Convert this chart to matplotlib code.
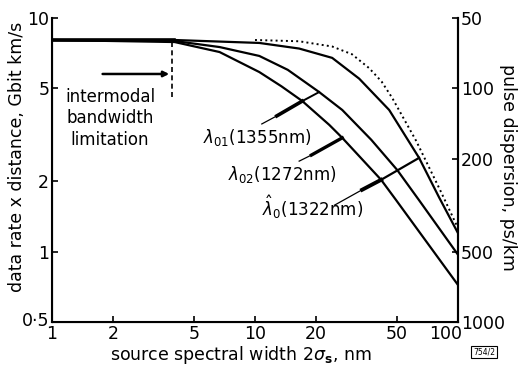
import matplotlib
matplotlib.use('Agg')
import matplotlib.pyplot as plt
import matplotlib.transforms as mtransforms

plt.rcParams['font.family'] = ['DejaVu Sans']
plt.rcParams['mathtext.fontset'] = 'dejavusans'

# dotted limit curve
x_lim = [10, 16.5, 24.0, 30.0, 36.5, 42.0, 47.4, 62.2, 82.5, 100]
y_lim = [8.05, 7.95, 7.55, 7.0, 6.1, 5.35, 4.55, 2.98, 1.80, 1.26]

# lambda-hat-0 (1322 nm)
x_c1 = [1, 4.02, 10.5, 16.5, 24.0, 32.6, 45.8, 64.3, 80.6, 100]
y_c1 = [8.05, 8.05, 7.82, 7.4, 6.75, 5.5, 4.04, 2.52, 1.71, 1.2]

# lambda-01 (1355 nm)
x_c2 = [1, 4.02, 6.69, 10.5, 14.5, 20.7, 26.9, 37.4, 50.1, 64.3, 100]
y_c2 = [8.05, 7.97, 7.51, 6.88, 6.0, 4.82, 4.04, 3.01, 2.24, 1.66, 0.97]

# lambda-02 (1272 nm)
x_c3 = [1, 4.02, 6.69, 10.5, 13.5, 17.1, 23.2, 26.9, 41.8, 49.6, 100]
y_c3 = [8.05, 7.89, 7.15, 5.87, 5.1, 4.41, 3.49, 3.07, 2.03, 1.66, 0.72]

x_ticks = [1, 2, 5, 10, 20, 50, 100]
y_ticks = [0.5, 1, 2, 5, 10]
y_ticklabels = ['0·5', '1', '2', '5', '10']
disp_ticks = [50, 100, 200, 500, 1000]

fs = 12.5
fig = plt.figure(figsize=(5.19, 3.65), dpi=100)
ax = fig.add_axes([0.1002, 0.1178, 0.7823, 0.8329])

ax.plot(x_c1, y_c1, 'k-', lw=1.6)
ax.plot(x_c2, y_c2, 'k-', lw=1.6)
ax.plot(x_c3, y_c3, 'k-', lw=1.6)
ax.plot(x_lim, y_lim, 'k:', lw=1.4)
ax.plot([1, 4.0], [8.05, 8.05], 'k-', lw=2.6)

ax.set_xscale('log')
ax.set_yscale('log')
ax.set_xlim(1, 100)
ax.set_ylim(0.5, 10)
ax.set_xticks(x_ticks)
ax.set_xticklabels([str(t) for t in x_ticks])
ax.set_yticks(y_ticks)
ax.set_yticklabels(y_ticklabels)
ax.minorticks_off()
ax.tick_params(direction='in', length=4, width=1.2, labelsize=fs, pad=2)
ax.spines['top'].set_visible(False)
for s in ['left', 'bottom', 'right']:
    ax.spines[s].set_linewidth(1.5)

# "100" sits left of the right axis, "0·5" a little higher, as in the original
ax.get_xticklabels()[-1].set_horizontalalignment('right')
ax.get_xticklabels()[-1].set_transform(
    ax.get_xticklabels()[-1].get_transform()
    + mtransforms.ScaledTranslation(4 / 100, 0, fig.dpi_scale_trans))
ax.get_yticklabels()[0].set_transform(
    ax.get_yticklabels()[0].get_transform()
    + mtransforms.ScaledTranslation(0, 3 / 100, fig.dpi_scale_trans))

ax2 = ax.twinx()
ax2.set_yscale('log')
ax2.set_ylim(1000, 50)
ax2.set_yticks(disp_ticks)
ax2.set_yticklabels([str(t) for t in disp_ticks])
ax2.minorticks_off()
ax2.tick_params(direction='in', length=4, width=1.2, labelsize=fs, pad=2)
ax2.spines['top'].set_visible(False)
ax2.spines['right'].set_linewidth(1.5)

# intermodal limit
ax.plot([3.9, 3.9], [7.9, 4.46], 'k--', lw=1.2, dashes=(3, 2))
ax.annotate('', xy=(3.9, 5.76), xytext=(1.72, 5.76),
            arrowprops=dict(arrowstyle='-|>', lw=1.8, color='k', mutation_scale=8))
ax.text(1.93, 3.73, 'intermodal\nbandwidth\nlimitation', ha='center', va='center',
        fontsize=12, linespacing=1.25)

# curve labels and pointers
ax.text(5.52, 3.07, r'$\lambda_{01}$(1355nm)', ha='left', va='center', fontsize=12)
ax.plot([10.8, 12.8], [3.52, 3.81], 'k-', lw=0.9)
ax.plot([12.8, 17.1], [3.81, 4.41], 'k-', lw=2.6)
ax.plot([17.1, 20.7], [4.41, 4.82], 'k-', lw=1.4)

ax.text(7.33, 2.13, r'$\lambda_{02}$(1272nm)', ha='left', va='center', fontsize=12)
ax.plot([16.5, 18.95], [2.44, 2.59], 'k-', lw=0.9)
ax.plot([18.95, 26.9], [2.59, 3.07], 'k-', lw=2.4)

ax.text(10.8, 1.55, r'$\hat{\lambda}_0$(1322nm)', ha='left', va='center', fontsize=12)
ax.plot([24.6, 33.7], [1.58, 1.84], 'k-', lw=0.9)
ax.plot([33.7, 41.8], [1.84, 2.03], 'k-', lw=2.8)
ax.plot([41.8, 64.3], [2.03, 2.52], 'k-', lw=1.6)

fig.text(17 / 519, 1 - 157 / 365, 'data rate x distance, Gbit km/s', rotation=90,
         ha='center', va='center', fontsize=fs)
fig.text(508 / 519, 1 - 167 / 365, 'pulse dispersion, ps/km', rotation=270,
         ha='center', va='center', fontsize=fs)
fig.text(241 / 519, 1 - 355 / 365, r'source spectral width 2$\sigma_\mathbf{s}$, nm',
         ha='center', va='center', fontsize=fs)
fig.text(484 / 519, 1 - 352 / 365, '754/2', ha='center', va='center', fontsize=5.5,
         bbox=dict(boxstyle='square,pad=0.2', fc='white', ec='k', lw=0.8))

fig.savefig('out.png', dpi=100)
